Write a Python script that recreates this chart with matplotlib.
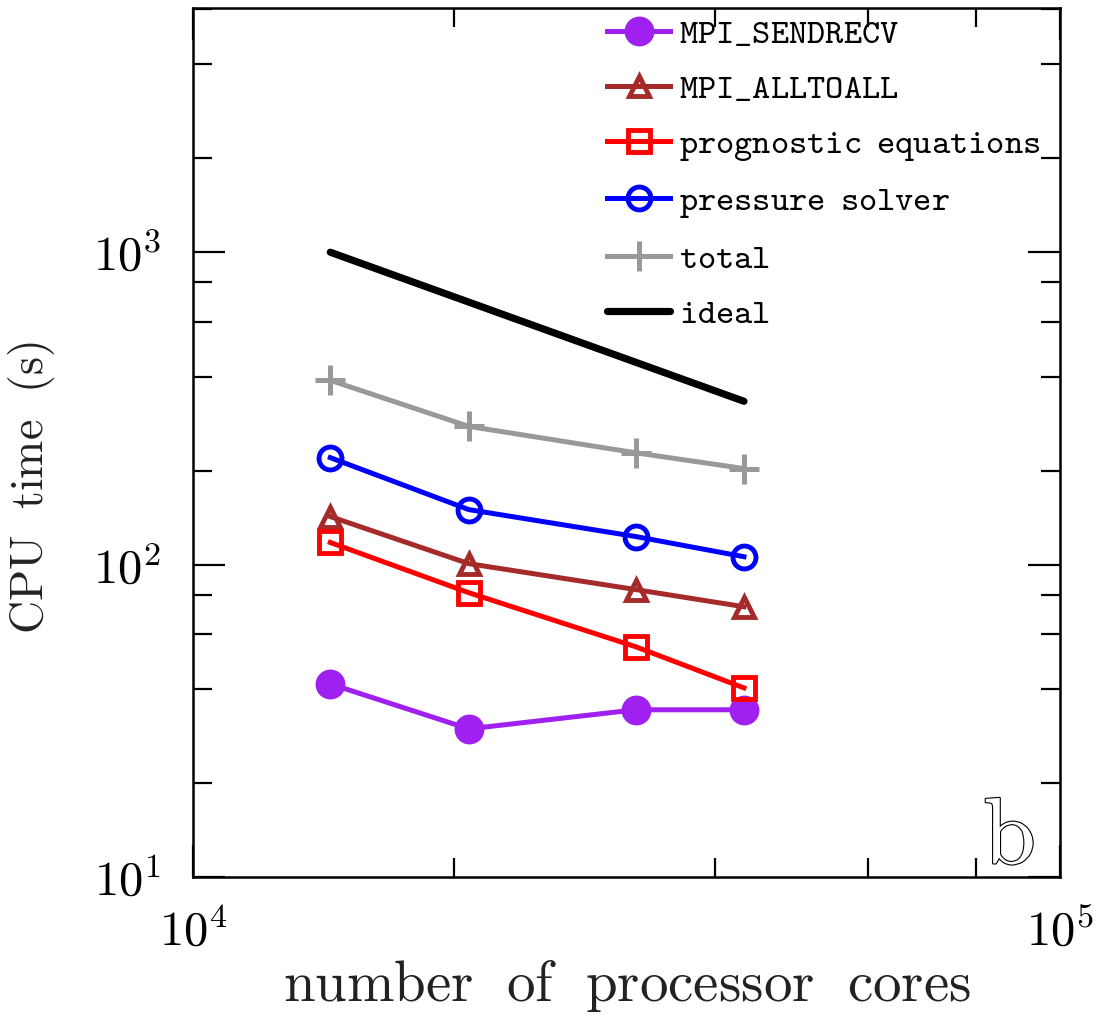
import math
import matplotlib
matplotlib.use("Agg")
import matplotlib.pyplot as plt
import matplotlib.ticker as mticker
import matplotlib.patheffects as pe

# ---- data ----
cores = [14400, 20800, 32400, 43200]
sendrecv = [41.5, 29.8, 34.3, 34.3]
alltoall = [142.5, 100.7, 83.2, 73.3]
prognostic = [117.7, 81.3, 54.6, 40.3]
pressure = [220, 150, 123, 106]
total = [389, 277, 228, 203]
ideal_x = [14400, 43200]
ideal_y = [1000, 333.3]

labels = ["MPI_SENDRECV", "MPI_ALLTOALL", "prognostic equations",
          "pressure solver", "total", "ideal"]


def tt(s):
    return r'$\mathtt{' + s.replace('_', r'\_').replace(' ', r'\enspace ') + '}$'


plt.rcParams['mathtext.fontset'] = 'cm'

fig = plt.figure(figsize=(10.99, 10.17), dpi=100)
ax = fig.add_axes([193/1099, 1-877/1017, (1060-193)/1099, (877-8)/1017])

lw = 3.6
ax.plot(cores, sendrecv, color='#A020F0', lw=lw, marker='o', ms=21.5,
        mew=0, label=tt(labels[0]))
ax.plot(cores, alltoall, color='#A52A2A', lw=lw, marker='^', ms=15,
        mfc='none', mew=3.5, label=tt(labels[1]))
ax.plot(cores, prognostic, color='#FF0000', lw=lw, marker='s', ms=16,
        mfc='none', mew=3.5, label=tt(labels[2]))
ax.plot(cores, pressure, color='#0000FF', lw=lw, marker='o', ms=16.5,
        mfc='none', mew=3.5, label=tt(labels[3]))
ax.plot(cores, total, color='#999999', lw=lw, marker='+', ms=21,
        mew=3.6, label=tt(labels[4]))
ax.plot(ideal_x, ideal_y, color='black', lw=5.2, solid_capstyle='round',
        label=tt(labels[5]))

ax.set_xscale('log')
ax.set_yscale('log')
ax.set_xlim(1e4, 1e5)
ax.set_ylim(10, 6050)

fmt = mticker.FuncFormatter(lambda v, p: r'$10^{%d}$' % round(math.log10(v)))
for axis in (ax.xaxis, ax.yaxis):
    axis.set_major_locator(mticker.LogLocator(base=10, numticks=10))
    axis.set_minor_locator(mticker.LogLocator(base=10, subs=[2, 4, 6, 8], numticks=10))
    axis.set_minor_formatter(mticker.NullFormatter())
    axis.set_major_formatter(fmt)

ax.tick_params(which='both', direction='in', top=True, right=True, width=1.6, colors='black')
ax.tick_params(which='major', length=23, labelsize=35)
ax.tick_params(which='minor', length=13.5)
ax.tick_params(axis='x', which='major', pad=22)
ax.tick_params(axis='y', which='major', pad=23)
for s in ax.spines.values():
    s.set_linewidth(1.8)

ax.set_xlabel(r'$\mathrm{number\ \ of\ \ processor\ \ cores}$', fontsize=41,
              labelpad=2, color='#222222')
ax.set_ylabel(r'$\mathrm{CPU\ \ time\ \ (s)}$', fontsize=33, labelpad=26,
              color='#222222', y=(877-488)/869)

leg = ax.legend(loc='upper left', bbox_to_anchor=(607/1099, 1-16/1017),
                bbox_transform=fig.transFigure, frameon=False, borderpad=0,
                borderaxespad=0, handlelength=1.82, handletextpad=0.26,
                labelspacing=0.60, numpoints=1, fontsize=25)

fig.text(1009/1099, 1-838/1017, r'$\mathrm{b}$', fontsize=68, color='white',
         ha='center', va='center',
         path_effects=[pe.withStroke(linewidth=1.6, foreground='black')])

fig.savefig('out.png', dpi=100)
